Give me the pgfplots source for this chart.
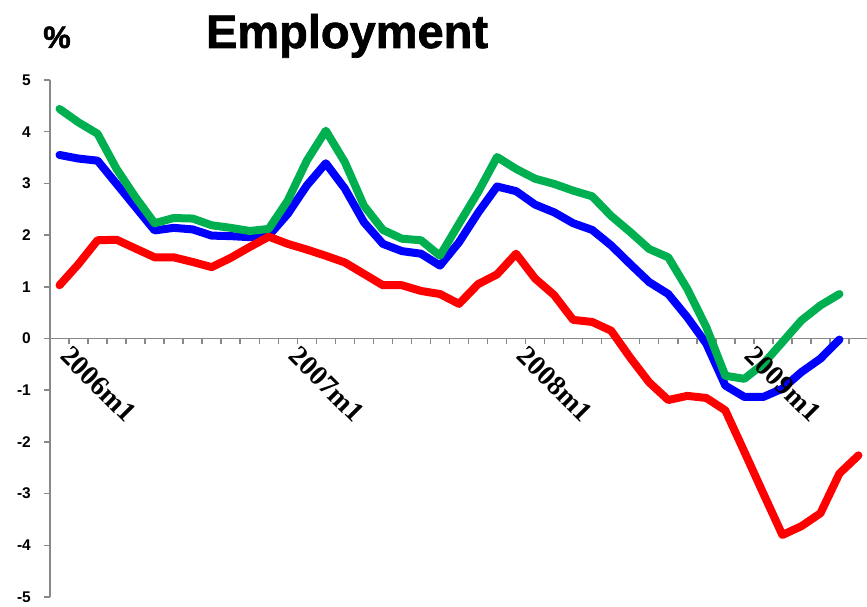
\documentclass[border=0pt]{standalone}
\usepackage{pgfplots}
\pgfplotsset{compat=1.18}
\usepackage{fontspec}
\setmainfont{Liberation Sans}
\newfontfamily\serifbf{Liberation Serif}
\newfontfamily\heavyfont{Liberation Sans Bold}[FakeBold=1.5]
\definecolor{xlgreen}{RGB}{0,176,80}
\definecolor{xlred}{RGB}{255,0,0}
\definecolor{xlblue}{RGB}{0,0,255}
\definecolor{axgray}{RGB}{136,136,136}
\pgfplotsset{layers/labelsontop/.define layer set={axis background,axis grid,axis ticks,axis lines,pre main,main,axis tick labels,axis descriptions,axis foreground}{
    grid style={/pgfplots/on layer=axis grid},
    tick style={/pgfplots/on layer=axis ticks},
    axis line style={/pgfplots/on layer=axis lines},
    label style={/pgfplots/on layer=axis descriptions},
    title style={/pgfplots/on layer=axis descriptions},
    ticklabel style={/pgfplots/on layer=axis tick labels},
  }}

\pgfplotstableread{
i v
0 1.03
1 1.44
2 1.90
3 1.91
4 1.74
5 1.57
6 1.57
7 1.48
8 1.38
9 1.56
10 1.77
11 1.97
12 1.83
13 1.72
14 1.60
15 1.47
16 1.25
17 1.03
18 1.03
19 0.92
20 0.86
21 0.67
22 1.05
23 1.24
24 1.64
25 1.16
26 0.84
27 0.36
28 0.32
29 0.15
30 -0.37
31 -0.85
32 -1.19
33 -1.11
34 -1.15
35 -1.39
36 -2.19
37 -3.00
38 -3.80
39 -3.63
40 -3.38
41 -2.61
42 -2.26
}\redtab

\pgfplotstableread{
i v
0 3.55
1 3.48
2 3.44
3 2.99
4 2.54
5 2.09
6 2.14
7 2.11
8 1.99
9 1.98
10 1.96
11 1.99
12 2.41
13 2.96
14 3.39
15 2.90
16 2.25
17 1.83
18 1.69
19 1.64
20 1.41
21 1.86
22 2.43
23 2.94
24 2.85
25 2.59
26 2.44
27 2.23
28 2.10
29 1.80
30 1.44
31 1.09
32 0.86
33 0.41
34 -0.10
35 -0.91
36 -1.13
37 -1.13
38 -0.97
39 -0.65
40 -0.39
41 -0.02
}\bluetab

\pgfplotstableread{
i v
0 4.44
1 4.18
2 3.96
3 3.28
4 2.73
5 2.23
6 2.33
7 2.32
8 2.19
9 2.14
10 2.08
11 2.12
12 2.67
13 3.44
14 4.02
15 3.41
16 2.57
17 2.10
18 1.93
19 1.90
20 1.60
21 2.22
22 2.83
23 3.51
24 3.28
25 3.09
26 2.99
27 2.86
28 2.75
29 2.37
30 2.06
31 1.73
32 1.57
33 0.96
34 0.22
35 -0.72
36 -0.78
37 -0.49
38 -0.07
39 0.35
40 0.64
41 0.86
}\greentab

\begin{document}
\begin{tikzpicture}[x=1pt,y=1pt]
\begin{axis}[
  set layers=labelsontop,
  scale only axis, width=818pt, height=517pt,
  xmin=-0.5, xmax=42.5, ymin=-5, ymax=5,
  axis x line=middle, axis y line=left,
  axis line style={axgray, line width=1.5pt, -},
  xtick={0.5,1.5,...,42.5},
  xticklabels={},
  extra x ticks={0,12,24,36},
  extra x tick labels={2006m1,2007m1,2008m1,2009m1},
  extra x tick style={major tick length=0pt, tick style={draw=none}},
  every tick/.style={axgray, line width=1.5pt},
  major tick length=6pt,
  tick align=outside,
  ytick={-5,-4,-3,-2,-1,0,1,2,3,4,5},
  yticklabels={-5,-4,-3,-2,-1,0,1,2,3,4,5},
  hide obscured y ticks=false,
  hide obscured x ticks=false,
  xticklabel style={font=\fontsize{28}{28}\selectfont\serifbf\bfseries, rotate=-45, anchor=north west, inner sep=0pt, xshift=13pt, yshift=5pt},
  yticklabel style={font=\fontsize{15.5}{16}\selectfont\bfseries, anchor=east, inner sep=0pt, xshift=-13pt},
]
\addplot[xlblue, line width=8pt, line join=round, line cap=round] table[x=i,y=v] {\bluetab};
\addplot[xlgreen, line width=8pt, line join=round, line cap=round] table[x=i,y=v] {\greentab};
\addplot[xlred, line width=8pt, line join=round, line cap=round] table[x=i,y=v] {\redtab};
\end{axis}
\node[font=\fontsize{47}{47}\selectfont\heavyfont, anchor=base] at (297pt,549pt) {Employment};
\node[font=\fontsize{31}{31}\selectfont\heavyfont, anchor=base] at (7pt,549pt) {\%};
\pgfresetboundingbox
\path (-50pt,-10pt) rectangle (817pt,597pt);
\end{tikzpicture}
\end{document}
